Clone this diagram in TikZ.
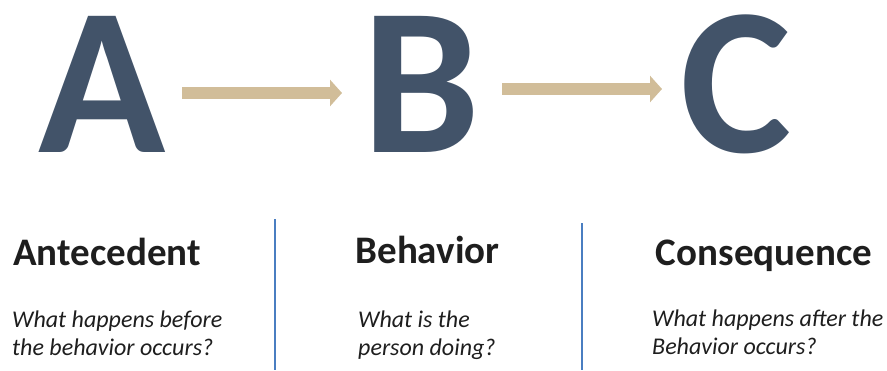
\documentclass[tikz,border=0pt]{standalone}
\usepackage{fontspec}
\setmainfont{Carlito}
\usetikzlibrary{arrows.meta,positioning}
\definecolor{slate}{HTML}{425369}
\definecolor{arrowtan}{HTML}{D1BD99}
\definecolor{rulerblue}{HTML}{4A7EC1}
\definecolor{inkblack}{HTML}{1E1E1E}
\tikzset{
  letter/.style={text=slate, inner sep=0pt, anchor=base,
    font=\fontsize{210}{210}\selectfont\bfseries},
  flow/.style={draw=arrowtan, line width=12pt,
    -{Triangle[length=12pt,width=26pt]}},
  heading/.style={text=inkblack, inner sep=0pt, anchor=base,
    font=\fontsize{39}{39}\selectfont\bfseries},
  question/.style={text=inkblack, inner sep=0pt, align=left,
    anchor=base west, font=\fontsize{24}{28}\selectfont\itshape},
  divider/.style={draw=rulerblue, line width=2pt}
}
\begin{document}
\begin{tikzpicture}[x=1pt,y=-1pt]
  \useasboundingbox (0,0) rectangle (887,370);
  % the three letters
  \node[letter] (A) at (102.5,152) {A};
  \node[letter] (B) at (421.5,152) {B};
  \node[letter] (C) at (736.5,152) {C};
  % arrows between them
  \coordinate (ab1) at (182,93);
  \coordinate (ab2) at (342,93);
  \coordinate (bc1) at (502,89);
  \coordinate (bc2) at (662,89);
  \draw[flow] (ab1) -- (ab2);
  \draw[flow] (bc1) -- (bc2);
  % headings
  \node[heading] (ante) at (107,265) {Antecedent};
  \node[heading] (beh) at (427.5,263) {Behavior};
  \node[heading] (cons) at (764,265) {Consequence};
  % questions (anchored at the last line)
  \node[question] (q1) at (12,355) {What happens before\\the behavior occurs?};
  \node[question] (q2) at (358,355) {What is the\\person doing?};
  \node[question] (q3) at (652,354) {What happens after the\\Behavior occurs?};
  % dividers
  \draw[divider] (275,219) -- (275,370);
  \draw[divider] (582,223) -- (582,370);
\end{tikzpicture}
\end{document}
